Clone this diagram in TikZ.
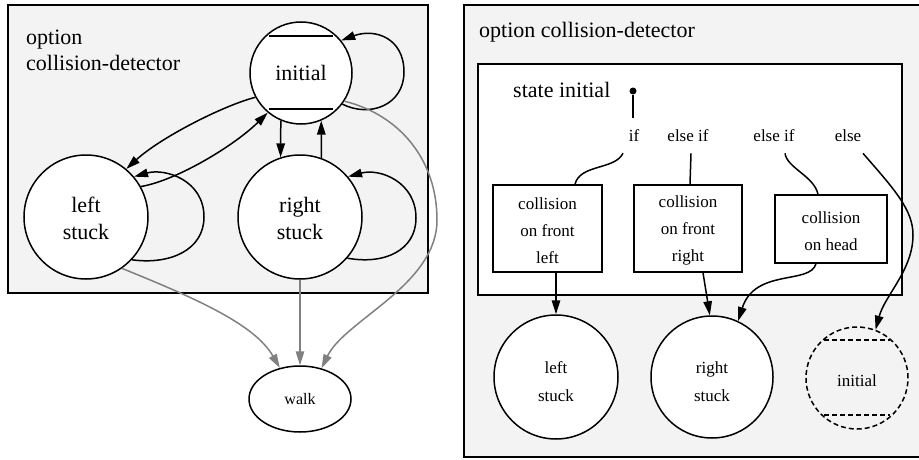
\documentclass[tikz,border=0pt]{standalone}
\usepackage{fontspec}
\setmainfont{Liberation Serif}
\usetikzlibrary{arrows.meta,calc,shapes.geometric}
\definecolor{panel}{RGB}{243,243,243}
\begin{document}
\begin{tikzpicture}[x=1pt,y=-1pt,
  big/.style={font=\fontsize{22}{27}\selectfont},
  small/.style={font=\fontsize{17}{27}\selectfont},
  lbl/.style={font=\fontsize{17}{20}\selectfont,inner sep=2pt,anchor=base},
  st/.style={circle,draw,fill=white,line width=1.5pt,inner sep=0pt,align=center},
  stbox/.style={draw,fill=white,line width=1.5pt,inner sep=0pt,align=center,small},
  conn/.style={line width=1.5pt},
  edge/.style={line width=1.5pt,-{Triangle[length=14pt,width=8.5pt]}},
  gedge/.style={edge,draw=gray},
  dsh/.style={dash pattern=on 5pt off 3pt}
]
\path[use as bounding box] (0,0) rectangle (919,460);

% ---------------- left panel ----------------
\draw[fill=panel,line width=1.5pt] (8,5) rectangle (428,293);
\node[big,anchor=base west,align=left,inner sep=0pt] (ltitle) at (26,71) {option\\collision-detector};

\node[st,big,minimum size=102pt] (linit) at (301,73) {initial};
\draw[conn] ([shift={(-32,-37)}]linit.center) -- ([shift={(32,-37)}]linit.center);
\draw[conn] ([shift={(-32,36)}]linit.center) -- ([shift={(32,36)}]linit.center);
\node[st,big,minimum size=124pt] (lleft) at (86,217) {\rule{0pt}{19pt}left\\stuck};
\node[st,big,minimum size=124pt] (lright) at (300,217) {\rule{0pt}{19pt}right\\stuck};
\node[draw,ellipse,fill=white,line width=1.5pt,minimum width=102pt,minimum height=66pt,inner sep=0pt,font=\fontsize{16}{20}\selectfont] (walk) at (300,399) {walk};

\draw[edge] (linit.-37) .. controls (370,118) and (404,105) .. (404,72) .. controls (404,38) and (375,28) .. (linit.39);
\draw[edge] (linit.208) .. controls (222,106) and (160,138) .. (lleft.50);
\draw[edge] (lleft.29) .. controls (178,180) and (235,145) .. (linit.-130);
\draw[edge] (lleft.-43) .. controls (170,265) and (204,250) .. (204,217) .. controls (204,180) and (165,168) .. (lleft.40);
\draw[edge] (linit.-113) -- (lright.108);
\draw[edge] (lright.70) -- (linit.-67);
\draw[edge] (lright.-41) .. controls (385,265) and (416,250) .. (416,218) .. controls (416,182) and (380,168) .. (lright.40);

\draw[gedge] (lleft.-55) .. controls (200,300) and (255,325) .. (walk.123);
\draw[gedge] (lright.south) -- (walk.north);
\draw[gedge] (linit.-33) .. controls (400,115) and (437,160) .. (437,220) .. controls (437,285) and (345,320) .. (walk.55);

% ---------------- right panel ----------------
\draw[fill=panel,line width=1.5pt] (464,5) rectangle (930,457);
\node[big,anchor=base west,inner sep=0pt] (rtitle) at (479,38) {option collision-detector};
\draw[fill=white,line width=1.5pt] (478,64) rectangle (902,295);
\node[big,anchor=base west,inner sep=0pt] (stinit) at (513,97) {state initial};
\node[circle,fill,inner sep=0pt,minimum size=7pt] (dot) at (633,91) {};
\coordinate (stem) at (633,118);
\draw[conn] (dot) -- (stem);

\node[lbl] (lif) at (634,142) {if};
\node[lbl] (lelsea) at (688,142) {else if};
\node[lbl] (lelseb) at (774,142) {else if};
\node[lbl] (lelse) at (848,142) {else};

\node[stbox,minimum width=109pt,minimum height=87pt] (box1) at (547.5,228.5) {\rule{0pt}{16pt}collision\\on front\\left};
\node[stbox,minimum width=108pt,minimum height=87pt] (box2) at (688,228.5) {\rule{0pt}{16pt}collision\\on front\\right};
\node[stbox,minimum width=112pt,minimum height=68pt] (box3) at (831,229) {\rule{0pt}{16pt}collision\\on head};

\node[st,font=\fontsize{17}{28}\selectfont,minimum size=124pt] (rleft) at (556,377) {\rule{0pt}{22pt}left\\stuck};
\node[st,font=\fontsize{17}{28}\selectfont,minimum size=122pt] (rright) at (712,377) {\rule{0pt}{22pt}right\\stuck};
\node[circle,draw,dsh,line width=1.5pt,inner sep=0pt,minimum size=102pt,font=\fontsize{17}{20}\selectfont] (rinit) at (857,378) {\rule{0pt}{18pt}initial};
\draw[conn,dsh] ([shift={(-33,-38)}]rinit.center) -- ([shift={(33,-38)}]rinit.center);
\draw[conn,dsh] ([shift={(-33,37)}]rinit.center) -- ([shift={(33,37)}]rinit.center);

\draw[conn] ([shift={(-11,9)}]lif.south) .. controls (615,170) and (580,164) .. ([xshift=27.5pt]box1.north);
\draw[conn] ([shift={(3,9)}]lelsea.south) -- ([xshift=2pt]box2.north);
\draw[conn] ([shift={(11,9)}]lelseb.south) .. controls (787,168) and (814,176) .. ([xshift=-13pt]box3.north);
\draw[edge] ([shift={(15,9)}]lelse.south) .. controls (895,190) and (913,210) .. (913,235) .. controls (913,270) and (885,295) .. (rinit.69);

\draw[edge] (rleft.north |- box1.south) -- (rleft.north);
\draw[edge] ([xshift=15pt]box2.south) -- (rright.92);
\draw[edge] ([xshift=-15pt]box3.south) .. controls (810,285) and (755,268) .. (rright.65);
\end{tikzpicture}
\end{document}
